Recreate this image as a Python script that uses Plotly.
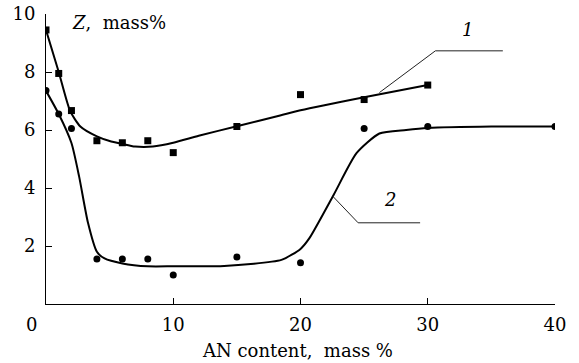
import plotly.graph_objects as go

# Measured data points
x_pts = [0, 1, 2, 4, 6, 8, 10, 15, 20, 25, 30]
z1_pts = [9.45, 7.95, 6.67, 5.63, 5.56, 5.63, 5.22, 6.12, 7.22, 7.05, 7.55]
x2_pts = [0, 1, 2, 4, 6, 8, 10, 15, 20, 25, 30, 40]
z2_pts = [7.36, 6.55, 6.05, 1.55, 1.55, 1.55, 1.0, 1.62, 1.42, 6.05, 6.12, 6.12]

# Smoothed (fitted) curves
x1_fit = [0, 1, 1.9, 2.7, 4, 5, 6, 7, 8.4, 10, 12, 15, 18.4, 20, 25, 30]
z1_fit = [9.45, 8.0, 6.65, 6.12, 5.78, 5.62, 5.52, 5.43, 5.43, 5.56, 5.8, 6.13, 6.5, 6.68, 7.13, 7.55]
x2_fit = [0, 1, 2, 2.6, 3.3, 4, 4.6, 6, 8, 10, 14, 18.5, 20, 20.7, 22.6, 24.4, 26.2, 28.3, 30, 35, 40]
z2_fit = [7.35, 6.55, 5.55, 4.4, 2.8, 1.8, 1.57, 1.4, 1.3, 1.3, 1.31, 1.52, 1.9, 2.27, 3.76, 5.2, 5.88, 6.0, 6.07, 6.12, 6.12]

# Leader lines for curve labels
lead1_x = [26.2, 30.6, 35.9]
lead1_y = [7.29, 8.73, 8.73]
lead2_x = [22.57, 24.53, 29.4]
lead2_y = [3.70, 2.80, 2.80]

x_ticks = [10, 20, 30, 40]
y_ticks = [2, 4, 6, 8, 10]

FONT = "DejaVu Serif"
FS = 18

W, H = 579, 363
L, R, T, B = 46, 24, 14, 59
pw, ph = W - L - R, H - T - B


def px2paper(px, py):
    return (px - L) / pw, 1 - (py - T) / ph


fig = go.Figure()
fig.add_trace(go.Scatter(x=x1_fit, y=z1_fit, mode="lines", line=dict(color="black", width=2, shape="spline", smoothing=0.6), hoverinfo="skip"))
fig.add_trace(go.Scatter(x=x2_fit, y=z2_fit, mode="lines", line=dict(color="black", width=2, shape="spline", smoothing=0.6), hoverinfo="skip"))
fig.add_trace(go.Scatter(x=x_pts, y=z1_pts, mode="markers", marker=dict(symbol="square", size=7, color="black")))
fig.add_trace(go.Scatter(x=x2_pts, y=z2_pts, mode="markers", marker=dict(symbol="circle", size=7, color="black")))
fig.add_trace(go.Scatter(x=lead1_x, y=lead1_y, mode="lines", line=dict(color="#222", width=1), hoverinfo="skip"))
fig.add_trace(go.Scatter(x=lead2_x, y=lead2_y, mode="lines", line=dict(color="#222", width=1), hoverinfo="skip"))

ztx, zty = px2paper(70, 23)
atx, aty = px2paper(297, 350)

fig.update_layout(
    template="none",
    width=W, height=H,
    margin=dict(l=L, r=R, t=T, b=B, pad=0),
    plot_bgcolor="white", paper_bgcolor="white",
    showlegend=False,
    font=dict(family=FONT, size=FS, color="black"),
    xaxis=dict(range=[0, 40], tickvals=x_ticks, ticks="inside", ticklen=6, tickcolor="black",
               showline=True, linecolor="black", linewidth=1, showgrid=False, zeroline=False,
               automargin=False, tickfont=dict(size=FS), ticklabelstandoff=4),
    yaxis=dict(range=[0, 10], tickvals=y_ticks, ticks="inside", ticklen=6, tickcolor="black",
               showline=True, linecolor="black", linewidth=1, showgrid=False, zeroline=False,
               automargin=False, tickfont=dict(size=FS), ticklabelstandoff=6),
    annotations=[
        dict(x=0, y=0, xref="x", yref="paper", text="0", showarrow=False,
             xanchor="center", yanchor="top", xshift=-15, yshift=-8, font=dict(size=FS)),
        dict(x=ztx, y=zty, xref="paper", yref="paper", text="<i>Z</i>,  mass%", showarrow=False,
             xanchor="left", yanchor="middle", font=dict(size=FS)),
        dict(x=atx, y=aty, xref="paper", yref="paper", text="AN content,  mass %", showarrow=False,
             xanchor="center", yanchor="middle", font=dict(size=FS)),
        dict(x=33.15, y=9.45, xref="x", yref="y", text="<i>1</i>", showarrow=False, font=dict(size=FS)),
        dict(x=27.0, y=3.59, xref="x", yref="y", text="<i>2</i>", showarrow=False, font=dict(size=FS)),
    ],
)

fig.write_html("out.html", config={"displayModeBar": False},
               post_script="document.body.style.margin='0px';document.body.style.padding='0px';")
